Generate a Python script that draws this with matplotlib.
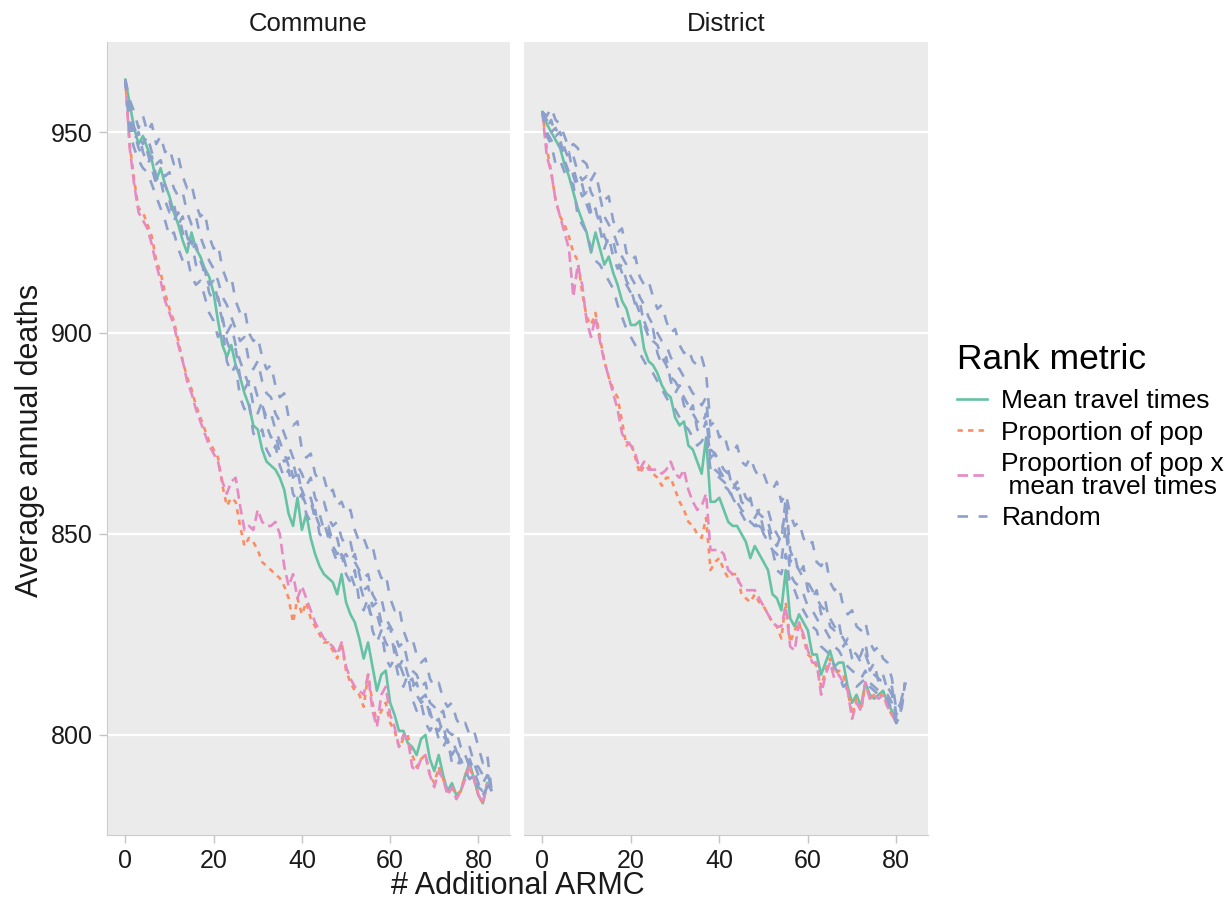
import matplotlib
matplotlib.use("Agg")
import matplotlib.pyplot as plt
import numpy as np

plt.rcParams['font.family'] = ['Liberation Sans', 'DejaVu Sans']

facets = ['Commune', 'District']
metrics = ['Mean travel times', 'Proportion of pop',
           'Proportion of pop x\n mean travel times', 'Random']
x_ticks = [0, 20, 40, 60, 80]
y_ticks = [800, 850, 900, 950]

# ---- Commune panel ----
commune_mean_travel = [
    963, 957, 951, 947, 949, 946, 943, 938, 941, 937,
    934, 930, 927, 923, 920, 925, 921, 919, 916, 914,
    910, 903, 897, 894, 897, 892, 889, 885, 882, 877,
    876, 871, 868, 867, 866, 864, 861, 855, 852, 859,
    851, 855, 849, 845, 842, 840, 839, 838, 835, 840,
    833, 830, 828, 824, 819, 823, 817, 811, 815, 816,
    808, 805, 801, 801, 798, 797, 795, 799, 800, 794,
    791, 795, 790, 786, 788, 785, 786, 790, 793, 789,
    785, 783, 788]
commune_prop_pop = [
    963, 947, 938, 931, 930, 927, 924, 918, 915, 910,
    906, 903, 898, 893, 889, 886, 882, 879, 876, 873,
    871, 869, 862, 857, 859, 858, 852, 847, 849, 848,
    846, 843, 842, 841, 840, 839, 837, 834, 828, 834,
    830, 833, 829, 827, 825, 823, 823, 821, 819, 823,
    816, 813, 811, 810, 807, 815, 808, 803, 806, 808,
    803, 801, 797, 799, 800, 795, 792, 794, 795, 790,
    788, 792, 789, 786, 787, 785, 786, 790, 792, 789,
    785, 783, 788]
commune_prop_pop_travel = [
    963, 946, 937, 930, 928, 926, 922, 917, 913, 908,
    905, 902, 897, 893, 888, 885, 881, 878, 875, 872,
    870, 868, 863, 860, 863, 864, 857, 851, 852, 851,
    856, 853, 852, 852, 853, 850, 842, 837, 840, 834,
    837, 834, 831, 828, 826, 824, 823, 822, 820, 823,
    817, 814, 812, 811, 810, 815, 806, 802, 810, 812,
    805, 802, 797, 800, 799, 792, 791, 794, 795, 790,
    787, 791, 789, 785, 787, 784, 786, 789, 792, 789,
    785, 783, 788]
commune_random = [
    [963, 958, 955, 951, 954, 950, 952, 947, 949, 945,
     946, 942, 944, 939, 936, 937, 932, 929, 930, 924,
     921, 922, 916, 913, 914, 908, 905, 906, 900, 898,
     899, 894, 891, 892, 887, 884, 885, 879, 877, 878,
     871, 869, 870, 865, 863, 864, 860, 861, 857, 858,
     855, 856, 851, 848, 849, 846, 847, 842, 839, 840,
     834, 831, 832, 826, 823, 824, 820, 818, 819, 814,
     812, 813, 809, 807, 808, 804, 802, 803, 800, 801,
     797, 793, 795, 786],
    [963, 955, 951, 949, 947, 949, 945, 942, 943, 939,
     940, 936, 934, 935, 930, 927, 929, 924, 921, 918,
     916, 913, 909, 907, 904, 901, 898, 899, 893, 891,
     893, 888, 885, 884, 880, 878, 875, 872, 869, 867,
     865, 862, 864, 859, 857, 858, 854, 852, 853, 849,
     847, 848, 843, 841, 839, 840, 835, 833, 834, 829,
     827, 825, 822, 823, 818, 816, 815, 812, 813, 808,
     807, 805, 806, 801, 800, 801, 797, 796, 797, 793,
     792, 790, 791, 786],
    [963, 952, 950, 946, 944, 945, 941, 937, 938, 933,
     930, 932, 927, 929, 924, 921, 922, 918, 915, 912,
     913, 908, 903, 900, 902, 897, 893, 890, 887, 888,
     884, 882, 879, 880, 876, 873, 870, 867, 868, 863,
     861, 858, 859, 855, 852, 853, 849, 847, 845, 846,
     842, 840, 837, 838, 834, 832, 829, 830, 826, 823,
     821, 822, 818, 815, 813, 814, 810, 808, 809, 805,
     803, 804, 800, 798, 799, 796, 794, 795, 792, 793,
     790, 788, 790, 786],
    [963, 950, 946, 943, 941, 940, 937, 934, 931, 928,
     924, 925, 921, 918, 919, 914, 912, 913, 909, 905,
     903, 899, 901, 893, 890, 892, 884, 881, 883, 875,
     874, 876, 871, 869, 872, 867, 864, 866, 860, 858,
     860, 855, 853, 856, 850, 849, 851, 846, 843, 845,
     840, 838, 841, 833, 831, 834, 826, 823, 826, 819,
     817, 819, 814, 812, 815, 809, 806, 808, 803, 801,
     803, 799, 797, 799, 793, 792, 794, 791, 789, 790,
     787, 786, 788, 786],
    [963, 953, 948, 950, 945, 942, 944, 939, 936, 937,
     933, 928, 930, 925, 922, 923, 917, 915, 916, 910,
     908, 909, 904, 898, 895, 896, 889, 886, 888, 882,
     880, 883, 877, 874, 875, 870, 868, 869, 864, 866,
     860, 857, 858, 854, 855, 851, 852, 848, 849, 844,
     845, 843, 845, 840, 836, 837, 832, 833, 828, 826,
     827, 820, 817, 819, 815, 812, 813, 809, 810, 806,
     802, 801, 803, 797, 795, 797, 793, 792, 794, 791,
     788, 785, 787, 786],
]

# ---- District panel ----
district_mean_travel = [
    955, 952, 950, 948, 946, 942, 939, 935, 931, 928,
    925, 920, 925, 921, 917, 919, 915, 912, 908, 906,
    902, 902, 903, 896, 893, 892, 890, 887, 885, 884,
    879, 877, 878, 872, 871, 868, 865, 874, 858, 858,
    859, 856, 853, 852, 852, 850, 848, 844, 847, 845,
    843, 841, 835, 834, 831, 841, 829, 827, 830, 828,
    826, 820, 820, 815, 818, 821, 817, 818, 818, 812,
    808, 810, 807, 813, 810, 809, 810, 811, 808, 806,
    803]
district_prop_pop = [
    955, 946, 940, 933, 929, 927, 924, 920, 918, 910,
    904, 902, 905, 899, 893, 889, 886, 884, 878, 872,
    873, 869, 865, 867, 867, 865, 864, 862, 864, 864,
    861, 858, 856, 853, 852, 850, 849, 854, 841, 843,
    844, 841, 839, 840, 840, 835, 834, 833, 835, 833,
    832, 830, 828, 827, 824, 833, 823, 826, 828, 824,
    820, 819, 817, 812, 816, 819, 815, 816, 815, 811,
    805, 809, 806, 813, 809, 810, 810, 810, 807, 805,
    803]
district_prop_pop_travel = [
    955, 944, 940, 933, 929, 925, 921, 909, 917, 912,
    903, 899, 904, 898, 893, 889, 885, 881, 875, 873,
    872, 870, 866, 868, 866, 866, 866, 865, 866, 868,
    865, 864, 866, 861, 858, 856, 857, 860, 846, 846,
    846, 845, 841, 840, 839, 837, 836, 836, 836, 834,
    832, 830, 828, 827, 827, 832, 822, 821, 828, 825,
    821, 818, 818, 810, 815, 818, 814, 815, 813, 811,
    804, 808, 806, 813, 809, 810, 809, 810, 807, 805,
    803]
district_random = [
    [955, 954, 956, 953, 952, 949, 946, 947, 946, 943,
     942, 938, 940, 935, 933, 934, 928, 925, 926, 920,
     918, 919, 914, 912, 913, 909, 906, 907, 903, 900,
     901, 897, 895, 896, 893, 892, 894, 890, 877, 878,
     874, 875, 871, 870, 872, 868, 867, 869, 866, 864,
     865, 862, 861, 863, 858, 860, 855, 852, 853, 849,
     847, 848, 843, 842, 844, 838, 836, 837, 832, 830,
     831, 827, 826, 828, 823, 821, 822, 819, 818, 814,
     806, 808, 813],
    [955, 951, 953, 949, 950, 946, 943, 944, 940, 938,
     939, 935, 933, 934, 929, 927, 925, 922, 919, 917,
     914, 912, 909, 907, 904, 902, 900, 898, 897, 894,
     892, 891, 889, 887, 885, 884, 882, 884, 871, 870,
     868, 866, 865, 863, 861, 862, 859, 858, 857, 855,
     854, 856, 852, 850, 848, 859, 846, 843, 841, 839,
     838, 836, 834, 832, 831, 829, 827, 826, 824, 822,
     821, 820, 818, 820, 817, 815, 814, 813, 812, 810,
     804, 807, 813],
    [955, 950, 948, 946, 947, 943, 940, 941, 937, 934,
     935, 930, 928, 929, 924, 922, 923, 918, 915, 912,
     910, 908, 905, 903, 900, 898, 897, 894, 892, 889,
     888, 886, 884, 882, 880, 878, 877, 880, 868, 866,
     865, 862, 861, 859, 858, 856, 855, 853, 852, 853,
     850, 848, 846, 845, 843, 852, 840, 838, 837, 835,
     832, 831, 829, 827, 826, 824, 822, 821, 819, 817,
     816, 815, 814, 816, 813, 812, 811, 811, 810, 808,
     803, 806, 813],
    [955, 949, 947, 942, 943, 940, 938, 937, 929, 927,
     925, 921, 918, 917, 915, 913, 911, 907, 904, 901,
     899, 897, 895, 893, 891, 890, 888, 886, 884, 882,
     881, 879, 877, 876, 874, 872, 873, 875, 866, 865,
     864, 863, 862, 859, 857, 855, 853, 853, 852, 852,
     851, 852, 846, 841, 840, 845, 837, 836, 833, 831,
     829, 827, 826, 822, 821, 820, 817, 815, 812, 813,
     813, 812, 813, 814, 812, 811, 810, 810, 809, 806,
     803, 805, 813],
    [955, 953, 950, 951, 948, 944, 945, 939, 936, 937,
     932, 929, 931, 926, 921, 924, 919, 916, 917, 913,
     911, 907, 908, 902, 899, 901, 895, 892, 894, 888,
     885, 887, 882, 880, 882, 876, 875, 878, 869, 870,
     866, 864, 866, 861, 863, 858, 857, 859, 854, 856,
     851, 853, 849, 847, 850, 856, 843, 845, 840, 842,
     836, 834, 836, 830, 833, 827, 826, 828, 822, 824,
     819, 818, 820, 823, 816, 818, 813, 815, 811, 812,
     805, 808, 813],
]

panels = {
    'Commune': (commune_mean_travel, commune_prop_pop,
                commune_prop_pop_travel, commune_random),
    'District': (district_mean_travel, district_prop_pop,
                 district_prop_pop_travel, district_random),
}

colors = ['#66C2A5', '#FC8D62', '#E78AC3', '#8DA0CB']
dashes = [None, (2, 2), (4, 2), (4, 4)]
lw = 1.9

W, H = 1226, 905
fig = plt.figure(figsize=(W / 100, H / 100), dpi=100)
ax1 = fig.add_axes([107 / W, 1 - 835 / H, 403 / W, 793 / H])
ax2 = fig.add_axes([524 / W, 1 - 835 / H, 404 / W, 793 / H], sharey=ax1)

handles = []
for ax, name in zip([ax1, ax2], facets):
    mean_t, prop, prop_t, randoms = panels[name]
    series = [mean_t, prop, prop_t]
    hs = []
    for vals, c, d in zip(series, colors[:3], dashes[:3]):
        ln, = ax.plot(np.arange(len(vals)), vals, color=c, lw=lw)
        if d is not None:
            ln.set_dashes(d)
        hs.append(ln)
    for vals in randoms:
        ln, = ax.plot(np.arange(len(vals)), vals, color=colors[3], lw=lw)
        ln.set_dashes(dashes[3])
    hs.append(ln)
    if not handles:
        handles = hs

    ax.set_facecolor('#EBEBEB')
    ax.set_xlim(-4.15, 87.15)
    ax.set_ylim(775.1, 972.4)
    ax.set_xticks(x_ticks)
    ax.set_yticks(y_ticks)
    ax.yaxis.grid(True, color='white', lw=1.6)
    ax.xaxis.grid(False)
    ax.set_axisbelow(True)
    for s in ['top', 'right']:
        ax.spines[s].set_visible(False)
    ax.spines['bottom'].set_color('#CCCCCC')
    ax.spines['left'].set_color('#CCCCCC')
    ax.tick_params(axis='both', colors='#C4C4C4', labelcolor='#1A1A1A',
                   length=6, width=1, labelsize=18, pad=4)
    ax.set_title(name, fontsize=18.5, pad=8, color='#1A1A1A')

ax2.spines['left'].set_visible(False)
ax2.tick_params(axis='y', left=False, labelleft=False)

fig.text((107 + 928) / 2 / W, 1 - 886 / H, '# Additional ARMC',
         ha='center', va='center', fontsize=22, color='#1A1A1A')
fig.text(30 / W, 1 - 440 / H, 'Average annual deaths', rotation=90,
         ha='center', va='center', fontsize=22, color='#1A1A1A')

leg = fig.legend(handles, metrics, loc='upper left',
                 bbox_to_anchor=(946 / W, 1 - 332 / H), frameon=False,
                 title='Rank metric', title_fontsize=25.5, fontsize=19,
                 handlelength=1.15, handletextpad=0.55, labelspacing=0.27,
                 alignment='left', borderaxespad=0)
for t in leg.get_texts():
    t.set_linespacing(0.95)
leg._legend_box.sep = 10

fig.savefig('out.png', dpi=100, facecolor='white')
